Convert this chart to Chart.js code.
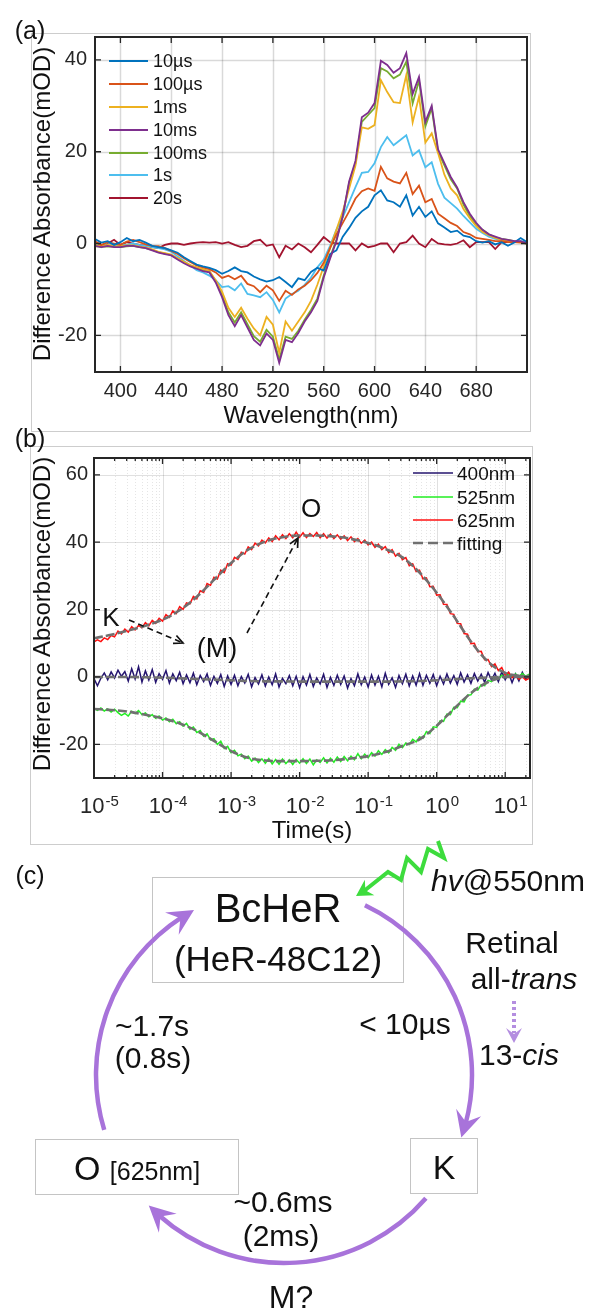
<!DOCTYPE html>
<html>
<head>
<meta charset="utf-8">
<title>BcHeR photocycle</title>
<script src="https://cdn.jsdelivr.net/npm/chart.js@4.4.1/dist/chart.umd.min.js"></script>
<style>
  html,body{margin:0;padding:0;background:#fff}
  body{position:relative;width:590px;height:1311px;overflow:hidden;font-family:"Liberation Sans",Arial,Helvetica,sans-serif;color:#111}
  canvas{position:absolute;left:0}
  .frame{position:absolute;border:1.5px solid #cdcdcd;box-sizing:border-box}
  .t{position:absolute;white-space:nowrap;line-height:1;transform:translate(-50%,-50%)}
  .lg{position:absolute;white-space:nowrap;line-height:1;transform:translateY(-50%);color:#111}
  .box{position:absolute;border:1.5px solid #c4c4c4;box-sizing:border-box;background:#fff}
  #overlay{position:absolute;left:0;top:0}
</style>
</head>
<body>
<div class="frame" style="left:31px;top:33px;width:500px;height:399px"></div>
<div class="frame" style="left:30px;top:446px;width:503px;height:399px"></div>
<canvas id="spectra" width="590" height="440" style="top:0"></canvas>
<canvas id="kinetics" width="590" height="410" style="top:440px"></canvas>
<div class="box" style="left:152px;top:877px;width:252px;height:106px"></div>
<div class="box" style="left:35px;top:1139px;width:204px;height:56px"></div>
<div class="box" style="left:410px;top:1138px;width:68px;height:56px"></div>
<svg id="overlay" width="590" height="1311"></svg>
<script>
// ---------- (a) difference spectra ----------
const wavelengths = [380,385,390,395,400,405,410,415,420,425,430,435,440,445,450,455,460,465,470,475,
  480,485,490,495,500,505,510,515,520,525,530,535,540,545,550,555,560,565,570,575,
  580,585,590,595,600,605,610,615,620,625,630,635,640,645,650,655,660,665,670,675,
  680,685,690,695,700,705,710,715,720];

const spec10us = [1.0,0.2,0.5,-0.3,0.3,1.2,0.5,0.8,0.2,-0.5,-0.8,-1.0,-1.5,-2.0,-3.0,-3.8,-4.6,-5.0,-5.3,-5.8,
  -6.6,-6.0,-5.2,-6.0,-6.3,-7.2,-7.8,-8.3,-8.0,-7.3,-8.4,-9.5,-7.6,-8.0,-6.2,-5.3,-5.9,-2.3,-1.5,1.5,
  3.4,5.6,7.0,8.0,10.5,11.6,9.4,9.0,8.0,10.5,6.1,8.0,5.8,7.0,4.4,3.5,2.5,2.8,1.7,1.4,
  0.5,0.2,0.5,-0.2,0.3,-0.5,0.2,1.2,0.3];
const spec100us = [0.5,-0.3,0.3,0.0,-0.3,0.4,0.8,0.3,-0.2,-0.5,-0.6,-1.0,-1.6,-2.3,-3.2,-4.0,-4.8,-5.2,-5.6,-6.3,
  -7.5,-7.0,-7.8,-7.0,-8.8,-9.3,-10.6,-9.2,-10.2,-12.5,-10.3,-11.2,-10.0,-9.2,-8.0,-6.4,-4.2,-1.0,2.0,4.5,
  7.0,9.8,11.4,12.0,11.5,16.7,14.2,13.5,13.1,15.4,10.8,12.6,9.0,9.7,6.5,5.5,4.5,3.8,2.5,2.0,
  1.2,1.0,0.8,0.5,0.5,0.3,0.3,0.2,0.0];
const spec1ms = [-0.3,-0.6,-0.3,-0.5,-0.6,-0.4,-0.4,-0.7,-0.9,-1.3,-1.8,-2.1,-2.4,-3.2,-4.0,-4.7,-5.2,-5.6,-6.0,-8.0,
  -10.5,-14.0,-16.0,-14.0,-16.4,-18.5,-20.0,-16.0,-17.7,-23.8,-17.0,-19.0,-17.0,-15.0,-12.5,-9.0,-5.0,-1.0,3.0,7.0,
  12.0,17.0,25.3,25.0,25.8,35.6,33.0,30.8,30.6,36.7,26.4,32.0,22.0,24.0,19.7,15.0,12.0,10.5,7.5,5.5,
  3.8,2.5,1.8,1.2,0.8,0.5,0.3,0.3,0.0];
const spec10ms = [-0.5,-0.8,-0.5,-0.8,-0.8,-0.5,-0.5,-0.8,-1.0,-1.5,-2.0,-2.3,-2.6,-3.5,-4.3,-5.0,-5.5,-6.0,-6.3,-8.5,
  -11.7,-15.6,-18.0,-15.6,-18.3,-21.0,-22.2,-19.6,-21.0,-26.0,-21.0,-21.5,-19.5,-17.0,-15.0,-12.5,-7.4,-3.3,0.5,6.0,
  13.5,18.0,27.5,28.5,30.6,39.8,38.9,37.2,38.2,41.5,32.6,36.3,26.5,30.0,20.5,17.5,14.5,12.2,9.0,6.5,
  4.5,3.0,2.0,1.5,1.0,0.8,0.5,0.5,0.0];
const spec100ms = [-0.6,-0.7,-0.6,-0.7,-0.8,-0.6,-0.5,-0.8,-1.0,-1.4,-1.9,-2.2,-2.5,-3.3,-4.1,-4.8,-5.3,-5.8,-6.1,-8.2,
  -11.2,-15.0,-17.2,-15.0,-17.6,-20.2,-21.4,-18.8,-20.3,-25.2,-20.3,-20.8,-19.0,-16.6,-14.5,-12.0,-7.0,-3.0,0.8,6.0,
  13.2,17.5,26.5,28.0,29.5,38.2,37.5,36.0,36.8,39.6,30.5,35.5,25.5,29.5,20.0,17.0,14.0,12.0,8.5,6.0,
  4.0,3.0,2.0,1.3,1.0,0.8,0.5,0.3,0.0];
const spec1s = [0.0,-0.8,0.3,-0.5,-0.3,-0.3,0.0,-0.3,-0.5,-0.8,-1.0,-1.3,-1.8,-2.8,-3.8,-4.8,-5.8,-6.3,-7.0,-8.0,
  -9.5,-9.3,-10.2,-8.7,-11.0,-11.3,-11.7,-10.6,-12.3,-15.0,-12.0,-11.0,-10.3,-9.0,-7.4,-5.2,-3.5,-0.5,3.0,5.7,
  9.0,12.3,15.4,15.6,17.5,21.0,23.2,21.4,22.5,23.6,19.2,20.3,16.6,17.7,13.0,10.0,8.8,7.6,6.0,4.6,
  3.2,2.3,1.5,1.0,0.8,0.5,0.3,0.5,0.3];
const spec20s = [0.3,-0.5,0.0,0.8,-0.3,0.3,0.0,-0.3,-0.5,-0.8,-1.0,-0.3,0.0,0.0,-0.3,0.0,0.2,0.3,0.2,0.3,
  0.0,0.3,-0.3,-0.8,-0.5,0.5,0.8,-0.5,-0.2,-3.0,-0.5,-1.3,0.0,-0.8,-1.9,-0.3,1.4,0.3,0.0,0.0,
  0.0,-1.5,0.0,-0.8,-0.5,0.0,0.0,-1.9,0.0,0.3,1.7,0.0,-0.8,1.0,0.0,-0.2,-0.3,0.0,0.7,-0.8,
  0.3,0.3,0.3,-1.2,0.3,0.3,0.3,0.3,0.3];

const specLabels = ['10µs','100µs','1ms','10ms','100ms','1s','20s'];
const specColors = ['#0072BD','#D95319','#EDB120','#7E2F8E','#77AC30','#4DBEEE','#A2142F'];
const specTicksX = [400,440,480,520,560,600,640,680];
const specTicksY = [-20,0,20,40];

// ---------- (b) kinetic traces (log10 of time in s) ----------
const logTime = [-5,-4.95,-4.9,-4.85,-4.8,-4.75,-4.7,-4.65,-4.6,-4.55,
  -4.5,-4.45,-4.4,-4.35,-4.3,-4.25,-4.2,-4.15,-4.1,-4.05,
  -4,-3.95,-3.9,-3.85,-3.8,-3.75,-3.7,-3.65,-3.6,-3.55,
  -3.5,-3.45,-3.4,-3.35,-3.3,-3.25,-3.2,-3.15,-3.1,-3.05,
  -3,-2.95,-2.9,-2.85,-2.8,-2.75,-2.7,-2.65,-2.6,-2.55,
  -2.5,-2.45,-2.4,-2.35,-2.3,-2.25,-2.2,-2.15,-2.1,-2.05,
  -2,-1.95,-1.9,-1.85,-1.8,-1.75,-1.7,-1.65,-1.6,-1.55,
  -1.5,-1.45,-1.4,-1.35,-1.3,-1.25,-1.2,-1.15,-1.1,-1.05,
  -1,-0.95,-0.9,-0.85,-0.8,-0.75,-0.7,-0.65,-0.6,-0.55,
  -0.5,-0.45,-0.4,-0.35,-0.3,-0.25,-0.2,-0.15,-0.1,-0.05,
  0,0.05,0.1,0.15,0.2,0.25,0.3,0.35,0.4,0.45,
  0.5,0.55,0.6,0.65,0.7,0.75,0.8,0.85,0.9,0.95,
  1,1.05,1.1,1.15,1.2,1.25,1.3,1.35];

const trace400 = [-0.5,-2.6,-0.4,1.2,-0.8,1.5,-0.3,2.0,0.2,1.6,
  -1.2,2.4,-0.6,3.0,-1.5,1.8,-0.9,2.2,-1.6,1.0,
  -0.7,1.9,-1.8,0.9,-1.1,1.4,-2.0,0.6,-1.7,1.1,
  -2.3,0.4,-1.4,0.9,-2.5,0.2,-1.9,0.7,-2.8,0.3,
  -2.2,0.5,-2.6,0.1,-1.8,0.8,-2.9,-0.2,-2.1,0.6,
  -2.7,0.0,-2.3,0.9,-3.0,-0.4,-2.0,0.4,-2.6,0.2,
  -3.2,0.1,-2.4,0.7,-2.8,-0.3,-2.1,0.8,-3.1,-0.1,
  -2.5,0.5,-2.2,0.3,-3.3,-0.5,-2.6,0.9,-2.3,0.0,
  -3.0,0.6,-2.4,0.2,-2.9,1.1,-2.2,-0.3,-3.1,0.4,
  -2.0,0.8,-2.7,0.3,-2.4,1.0,-2.5,0.5,-1.9,0.7,
  -2.6,0.2,-2.1,0.9,-1.8,0.4,-2.2,1.2,-1.5,0.6,
  -1.9,1.0,-1.2,0.8,-1.6,1.3,-0.9,1.1,-1.4,1.5,
  -0.8,1.2,-1.7,0.9,-1.2,1.4,-0.6,0.5];
const trace525 = [-9.3,-9.9,-9.2,-10.1,-9.5,-10.4,-9.6,-10.6,-11.4,-10.8,
  -11.6,-10.2,-10.9,-10.0,-11.2,-10.7,-11.8,-11.2,-12.3,-11.6,
  -12.8,-12.2,-13.3,-12.6,-13.9,-13.3,-14.6,-13.8,-15.5,-14.9,
  -16.5,-15.9,-17.6,-16.9,-18.7,-18.3,-20.0,-19.1,-21.2,-20.6,
  -22.5,-21.8,-23.4,-22.9,-24.3,-23.5,-25.0,-24.1,-25.4,-24.3,
  -25.6,-24.2,-25.8,-24.5,-25.9,-24.4,-25.7,-24.6,-26.0,-24.5,
  -25.6,-24.3,-25.7,-24.4,-26.1,-24.6,-25.4,-24.0,-25.5,-24.1,
  -25.3,-23.8,-25.1,-23.6,-24.9,-23.5,-24.6,-22.8,-24.3,-22.9,
  -24.0,-22.5,-23.5,-21.9,-23.0,-21.6,-22.5,-20.9,-21.8,-20.0,
  -21.0,-19.6,-20.1,-18.5,-19.3,-17.8,-18.2,-16.2,-16.8,-14.8,
  -15.0,-13.0,-13.2,-11.0,-11.2,-9.0,-9.1,-7.2,-7.4,-5.4,
  -5.3,-3.6,-3.9,-2.3,-2.6,-1.0,-1.4,-0.2,-0.6,0.5,
  -0.2,0.8,0.0,0.9,0.1,1.0,0.2,0.8];
const trace625 = [10.4,11.0,10.5,11.6,11.1,12.3,11.9,13.6,12.8,14.2,
  13.3,14.9,14.0,15.3,14.6,16.1,15.2,16.8,15.9,17.4,
  16.6,18.5,17.7,19.6,18.8,20.9,20.1,22.0,21.7,23.9,
  23.2,25.6,25.1,27.7,27.2,29.6,29.1,31.7,31.0,33.6,
  33.2,35.5,34.9,37.0,36.5,38.6,37.8,39.7,38.9,40.6,
  39.8,41.3,40.2,41.9,40.7,42.2,41.1,42.5,41.3,43.0,
  41.5,42.8,41.4,42.6,41.7,42.9,41.3,42.5,41.2,42.4,
  41.1,42.2,40.9,41.9,40.5,41.6,40.2,41.1,39.7,40.6,
  39.2,40.0,38.5,39.4,37.8,38.7,36.9,37.8,35.9,36.7,
  34.8,35.4,33.0,33.6,31.3,31.7,29.1,29.4,26.8,26.9,
  24.3,24.4,21.6,21.5,18.8,18.6,15.9,15.8,12.9,12.7,
  9.9,10.0,7.5,7.6,5.1,5.2,3.1,3.9,1.9,2.8,
  0.5,1.4,-0.2,0.5,-0.7,0.1,-0.9,-0.4];

const fitLogTime = [-5,-4.75,-4.5,-4.25,-4,-3.75,-3.5,-3.25,-3,-2.75,-2.5,-2.25,-2,-1.75,
  -1.5,-1.25,-1,-0.75,-0.5,-0.25,0,0.25,0.5,0.75,1,1.25,1.35];
const fit400 = [0,0,0,-0.1,-0.2,-0.4,-0.6,-0.8,-1,-1.2,-1.3,-1.3,-1.4,-1.4,
  -1.4,-1.4,-1.4,-1.4,-1.3,-1.2,-1,-0.7,-0.4,-0.2,0,0,0];
const fit525 = [-9.5,-9.8,-10.3,-11.2,-12.3,-13.8,-16,-19,-22,-24,-24.8,-25,-25,-24.9,
  -24.7,-24.2,-23.5,-22.3,-20.5,-18.5,-14.5,-9.5,-4.8,-1.5,0,0.3,0.3];
const fit625 = [11.5,12.5,13.8,15.2,17,19.8,23.8,28.8,33.8,37.8,40.2,41.5,42,42,
  41.7,41,39.8,38,35.5,31,25,18,10.5,4.5,1.2,0.2,0];

const kineticLabels = ['400nm','525nm','625nm','fitting'];
const kineticColors = ['#24146e','#22ee22','#ff1010','#707070'];
const kineticTicksY = [-20,0,20,40,60];
const kineticDecades = [-5,-4,-3,-2,-1,0,1];

// ---------- shared drawing helpers ----------
Chart.defaults.font.family = '"Liberation Sans", Arial, Helvetica, sans-serif';
Chart.defaults.color = '#262626';
const AXIS = '#262626';

function axesBox(opts) {
  return {
    id: 'axesBox',
    beforeDatasetsDraw(chart) {
      const {ctx, chartArea: a, scales: {x, y}} = chart;
      ctx.save();
      opts.xGrid.forEach(g => {
        const px = Math.round(x.getPixelForValue(g.v)) + 0.5;
        ctx.strokeStyle = g.c; ctx.lineWidth = g.w; ctx.setLineDash(g.d || []);
        ctx.beginPath(); ctx.moveTo(px, a.top); ctx.lineTo(px, a.bottom); ctx.stroke();
      });
      opts.yGrid.forEach(g => {
        const py = Math.round(y.getPixelForValue(g.v)) + 0.5;
        ctx.strokeStyle = g.c; ctx.lineWidth = g.w; ctx.setLineDash(g.d || []);
        ctx.beginPath(); ctx.moveTo(a.left, py); ctx.lineTo(a.right, py); ctx.stroke();
      });
      ctx.restore();
    },
    afterDatasetsDraw(chart) {
      const {ctx, chartArea: a, scales: {x, y}} = chart;
      ctx.save();
      ctx.strokeStyle = AXIS; ctx.setLineDash([]);
      ctx.lineWidth = 1.3;
      opts.xMarks.forEach(m => {
        const px = x.getPixelForValue(m.v);
        ctx.beginPath();
        ctx.moveTo(px, a.bottom); ctx.lineTo(px, a.bottom - m.len);
        ctx.moveTo(px, a.top); ctx.lineTo(px, a.top + m.len);
        ctx.stroke();
      });
      opts.yMarks.forEach(m => {
        const py = y.getPixelForValue(m.v);
        ctx.beginPath();
        ctx.moveTo(a.left, py); ctx.lineTo(a.left + m.len, py);
        ctx.moveTo(a.right, py); ctx.lineTo(a.right - m.len, py);
        ctx.stroke();
      });
      ctx.lineWidth = 2;
      ctx.strokeRect(a.left, a.top, a.right - a.left, a.bottom - a.top);
      ctx.restore();
    }
  };
}

// ---------- chart (a) ----------
const specSeries = [spec10us, spec100us, spec1ms, spec10ms, spec100ms, spec1s, spec20s];
const gridA = 'rgba(0,0,0,0.15)';
new Chart(document.getElementById('spectra'), {
  type: 'line',
  data: {
    datasets: specSeries.map((s, i) => ({
      label: specLabels[i],
      data: s.map((v, j) => ({x: wavelengths[j], y: v})),
      borderColor: specColors[i],
      borderWidth: 1.8,
      pointRadius: 0,
      tension: 0,
      order: i === 3 ? 0 : 1
    }))
  },
  options: {
    responsive: false, animation: false, events: [],
    layout: {padding: {left: 0, top: 37, right: 63, bottom: 0}},
    plugins: {legend: {display: false}, tooltip: {enabled: false}},
    scales: {
      x: {
        type: 'linear', min: 380, max: 720,
        grid: {display: false, drawTicks: false}, border: {display: false},
        afterBuildTicks: s => { s.ticks = specTicksX.map(v => ({value: v})); },
        ticks: {font: {size: 20}, padding: 7, maxRotation: 0, autoSkip: false},
        afterFit: s => { s.height = 68; }
      },
      y: {
        min: -28, max: 45,
        grid: {display: false, drawTicks: false}, border: {display: false},
        afterBuildTicks: s => { s.ticks = specTicksY.map(v => ({value: v})); },
        ticks: {font: {size: 20}, padding: 8},
        afterFit: s => { s.width = 95; }
      }
    }
  },
  plugins: [axesBox({
    xGrid: specTicksX.map(v => ({v, c: gridA, w: 1.5})),
    yGrid: specTicksY.map(v => ({v, c: gridA, w: 1.5})),
    xMarks: specTicksX.map(v => ({v, len: 6})),
    yMarks: specTicksY.map(v => ({v, len: 6}))
  })]
});

// ---------- chart (b) ----------
const minorTimes = [];
kineticDecades.forEach(e => {
  for (let k = 2; k <= 9; k++) {
    const t = k * Math.pow(10, e);
    if (t <= 23) minorTimes.push(t);
  }
});
const majorTimes = kineticDecades.map(e => Math.pow(10, e));
const gridMajB = 'rgba(0,0,0,0.12)';
const gridMinB = 'rgba(0,0,0,0.10)';

const toPoints = (lx, ys) => ys.map((v, i) => ({x: Math.pow(10, lx[i]), y: v}));
const fitStyle = {borderColor: kineticColors[3], borderWidth: 2.6, borderDash: [9, 3],
  pointRadius: 0, cubicInterpolationMode: 'monotone', order: 0};

new Chart(document.getElementById('kinetics'), {
  type: 'line',
  data: {
    datasets: [
      {label: kineticLabels[0], data: toPoints(logTime, trace400), borderColor: kineticColors[0], borderWidth: 1.5, pointRadius: 0, tension: 0, order: 3},
      {label: kineticLabels[1], data: toPoints(logTime, trace525), borderColor: kineticColors[1], borderWidth: 1.5, pointRadius: 0, tension: 0, order: 2},
      {label: kineticLabels[2], data: toPoints(logTime, trace625), borderColor: kineticColors[2], borderWidth: 1.5, pointRadius: 0, tension: 0, order: 1},
      Object.assign({label: kineticLabels[3], data: toPoints(fitLogTime, fit400)}, fitStyle),
      Object.assign({label: kineticLabels[3], data: toPoints(fitLogTime, fit525)}, fitStyle),
      Object.assign({label: kineticLabels[3], data: toPoints(fitLogTime, fit625)}, fitStyle)
    ]
  },
  options: {
    responsive: false, animation: false, events: [],
    layout: {padding: {left: 0, top: 10, right: 60, bottom: 0}},
    plugins: {legend: {display: false}, tooltip: {enabled: false}},
    scales: {
      x: {
        type: 'logarithmic', min: 1e-5, max: 23,
        grid: {display: false, drawTicks: false}, border: {display: false},
        afterBuildTicks: s => { s.ticks = majorTimes.map(v => ({value: v})); },
        ticks: {display: false},
        afterFit: s => { s.height = 72; }
      },
      y: {
        min: -30, max: 65,
        grid: {display: false, drawTicks: false}, border: {display: false},
        afterBuildTicks: s => { s.ticks = kineticTicksY.map(v => ({value: v})); },
        ticks: {font: {size: 20}, padding: 6},
        afterFit: s => { s.width = 94; }
      }
    }
  },
  plugins: [
    axesBox({
      xGrid: minorTimes.map(v => ({v, c: gridMinB, w: 1, d: [1, 2]})).concat(majorTimes.map(v => ({v, c: gridMajB, w: 1}))),
      yGrid: kineticTicksY.map(v => ({v, c: gridMajB, w: 1})),
      xMarks: majorTimes.map(v => ({v, len: 6})).concat(minorTimes.map(v => ({v, len: 3}))),
      yMarks: kineticTicksY.map(v => ({v, len: 6}))
    }),
    {
      id: 'powerLabels',
      afterDraw(chart) {
        const {ctx, scales: {x}, chartArea: a} = chart;
        const baseFont = '22px "Liberation Sans", Arial, sans-serif';
        const expFont = '15px "Liberation Sans", Arial, sans-serif';
        ctx.save();
        ctx.fillStyle = AXIS; ctx.textAlign = 'left'; ctx.textBaseline = 'alphabetic';
        kineticDecades.forEach(e => {
          const px = x.getPixelForValue(Math.pow(10, e));
          ctx.font = baseFont; const bw = ctx.measureText('10').width;
          ctx.font = expFont; const ew = ctx.measureText(String(e)).width;
          const left = px - (bw + ew) / 2 + 5;
          ctx.font = baseFont; ctx.fillText('10', left, a.bottom + 35);
          ctx.font = expFont; ctx.fillText(String(e), left + bw + 1, a.bottom + 28);
        });
        ctx.restore();
      }
    }
  ]
});

// ---------- overlay: legends, annotations, photocycle scheme ----------
const overlay = document.getElementById('overlay');
const NS = 'http://www.w3.org/2000/svg';
function svgEl(tag, attrs) {
  const e = document.createElementNS(NS, tag);
  for (const k in attrs) e.setAttribute(k, attrs[k]);
  overlay.appendChild(e);
  return e;
}
function addText(html, x, y, size, extra) {
  const d = document.createElement('div');
  d.className = 't';
  d.style.left = x + 'px'; d.style.top = y + 'px'; d.style.fontSize = size + 'px';
  d.innerHTML = html;
  if (extra) Object.assign(d.style, extra);
  document.body.appendChild(d);
  return d;
}
function addLegendText(text, x, y, size) {
  const d = document.createElement('div');
  d.className = 'lg';
  d.style.left = x + 'px'; d.style.top = y + 'px'; d.style.fontSize = size + 'px';
  d.textContent = text;
  document.body.appendChild(d);
}

// legend (a)
const legendRowsA = [61, 84, 107, 130, 153, 175, 198];
specLabels.forEach((lab, i) => {
  svgEl('line', {x1: 109, y1: legendRowsA[i], x2: 148, y2: legendRowsA[i], stroke: specColors[i], 'stroke-width': 2});
  addLegendText(lab, 153, legendRowsA[i], 18);
});

// legend (b)
const legendRowsB = [473, 497, 520, 543];
kineticLabels.forEach((lab, i) => {
  const attrs = {x1: 413, y1: legendRowsB[i], x2: 453, y2: legendRowsB[i], stroke: kineticColors[i], 'stroke-width': i === 3 ? 2.4 : 1.6};
  if (i === 3) attrs['stroke-dasharray'] = '10 5';
  svgEl('line', attrs);
  addLegendText(lab, 457, legendRowsB[i], 19);
});

// dashed annotation arrows in (b)
function dashedArrow(x0, y0, x1, y1) {
  svgEl('line', {x1: x0, y1: y0, x2: x1, y2: y1, stroke: '#111', 'stroke-width': 1.6, 'stroke-dasharray': '6 4'});
  const ang = Math.atan2(y1 - y0, x1 - x0);
  const h = 10, spread = 0.45;
  const p1 = [x1 - h * Math.cos(ang - spread), y1 - h * Math.sin(ang - spread)];
  const p2 = [x1 - h * Math.cos(ang + spread), y1 - h * Math.sin(ang + spread)];
  svgEl('polyline', {points: `${p1[0]},${p1[1]} ${x1},${y1} ${p2[0]},${p2[1]}`, fill: 'none', stroke: '#111', 'stroke-width': 1.7});
}
dashedArrow(129, 620, 183, 643);
dashedArrow(247, 633, 298, 538);

// photocycle arcs
const cx = 284, cy = 1075, R = 188;
const cyclePurple = '#a873da';
function arrowHead(tx, ty, ux, uy, len, half, notch, color) {
  const nx = -uy, ny = ux;
  const bx = tx - ux * len, by = ty - uy * len;
  const pts = [[tx, ty], [bx + nx * half, by + ny * half], [tx - ux * (len - notch), ty - uy * (len - notch)], [bx - nx * half, by - ny * half]];
  svgEl('polygon', {points: pts.map(p => p.join(',')).join(' '), fill: color});
}
function cycleArc(a0deg, a1deg) {
  const a0 = a0deg * Math.PI / 180, a1 = a1deg * Math.PI / 180;
  const aEnd = a1 - 14 / R;
  const sx = cx + R * Math.cos(a0), sy = cy + R * Math.sin(a0);
  const ex = cx + R * Math.cos(aEnd), ey = cy + R * Math.sin(aEnd);
  svgEl('path', {d: `M${sx},${sy} A${R},${R} 0 0 1 ${ex},${ey}`, fill: 'none', stroke: cyclePurple, 'stroke-width': 4.5});
  const tx = cx + R * Math.cos(a1), ty = cy + R * Math.sin(a1);
  const am = a1 - 10 / R;
  arrowHead(tx, ty, -Math.sin(am), Math.cos(am), 26, 13, 10, cyclePurple);
}
cycleArc(163, 241.4);
cycleArc(-64.5, 19.4);
cycleArc(41, 136);

// retinal isomerisation arrow
svgEl('line', {x1: 514, y1: 1001, x2: 514, y2: 1033, stroke: '#b48ee0', 'stroke-width': 4, 'stroke-dasharray': '3 3'});
arrowHead(514, 1043, 0, 1, 15, 8, 6, '#b48ee0');

// excitation light
svgEl('polyline', {points: '438,841 444,858 428,849 421,872 407,858 401,880 388,872 364,891', fill: 'none', stroke: '#3ddc3d', 'stroke-width': 4, 'stroke-linejoin': 'miter'});
arrowHead(356, 896, -0.85, 0.53, 16, 9, 5, '#3ddc3d');

// ---------- text ----------
addText('(a)', 30, 30, 25);
addText('(b)', 30, 438, 25);
addText('(c)', 30, 875, 25);
addText('Wavelength(nm)', 311, 415, 24);
addText('Difference Absorbance(mOD)', 42, 204, 24, {transform: 'translate(-50%,-50%) rotate(-90deg)'});
addText('Time(s)', 312, 830, 24);
addText('Difference Absorbance(mOD)', 42, 614, 24, {transform: 'translate(-50%,-50%) rotate(-90deg)'});
addText('K', 111, 617, 26);
addText('(M)', 217, 648, 27);
addText('O', 311, 508, 26);

addText('BcHeR', 278, 908, 40);
addText('(HeR-48C12)', 278, 958, 35);
addText('<span style="font-size:34px">O</span> <span style="font-size:25px">[625nm]</span>', 137, 1168, 34);
addText('K', 444, 1167, 34);
addText('<i>hv</i>@550nm', 508, 881, 30);
addText('Retinal', 512, 943, 30);
addText('all-<i>trans</i>', 524, 979, 30);
addText('13-<i>cis</i>', 519, 1055, 30);
addText('&lt; 10µs', 405, 1024, 30);
addText('~1.7s', 152, 1026, 30);
addText('(0.8s)', 153, 1058, 30);
addText('~0.6ms', 283, 1202, 30);
addText('(2ms)', 281, 1236, 30);
addText('M?', 291, 1297, 32);
</script>
</body>
</html>
